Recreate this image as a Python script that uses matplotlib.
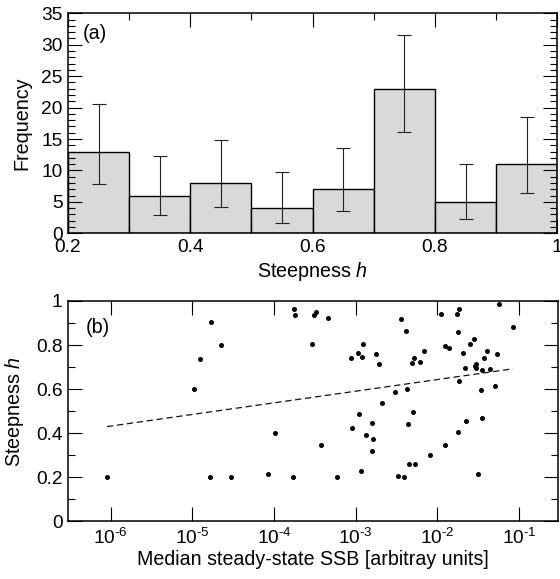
import numpy as np
import matplotlib
matplotlib.use("Agg")
import matplotlib.pyplot as plt
from matplotlib.ticker import MultipleLocator, FuncFormatter, LogLocator, NullLocator

plt.rcParams['font.family'] = ['Liberation Sans', 'DejaVu Sans']
plt.rcParams['mathtext.fontset'] = 'custom'
plt.rcParams['mathtext.rm'] = 'Liberation Sans'
plt.rcParams['mathtext.it'] = 'Liberation Sans:italic'
plt.rcParams['mathtext.default'] = 'regular'

# ---------------- data: panel (a) histogram ----------------
bin_left = [0.2, 0.3, 0.4, 0.5, 0.6, 0.7, 0.8, 0.9]
bin_width = 0.1
counts = [13, 6, 8, 4, 7, 23, 5, 11]
ci_lower = [7.9, 2.85, 4.17, 1.64, 3.54, 16.05, 2.22, 6.34]
ci_upper = [20.6, 12.35, 14.84, 9.77, 13.62, 31.52, 11.09, 18.43]

# ---------------- data: panel (b) scatter ----------------
ssb_log10 = [-6.045, -4.981, -4.904, -4.773, -4.647, -4.782, -4.528, -3.983, -4.069,
             -3.763, -3.750, -3.738,
             -3.506, -3.489, -3.342, -3.530, -3.053, -2.968, -2.922, -2.910, -2.747,
             -2.714, -2.442, -2.384, -2.314, -2.290, -2.217, -2.160, -1.952, -1.760,
             -1.739, -1.243, -1.072, -1.748, -1.903, -1.854, -1.605, -1.556, -1.690,
             -1.397, -1.271, -1.434, -1.524, -1.540, -1.531, -1.666, -1.454, -1.360,
             -1.736, -1.463, -1.295, -2.515, -2.368, -2.678, -2.955, -2.295, -3.048,
             -2.796, -2.363, -2.870, -2.791, -2.800, -1.646, -1.454, -1.744, -1.903,
             -2.094, -2.351, -2.278, -3.428, -2.931, -3.228, -2.486, -2.412, -1.503]
steepness = [0.200, 0.600, 0.738, 0.905, 0.800, 0.200, 0.200, 0.400, 0.214,
             0.200, 0.962, 0.935,
             0.938, 0.950, 0.921, 0.803, 0.742, 0.765, 0.745, 0.807, 0.759,
             0.712, 0.918, 0.866, 0.718, 0.739, 0.723, 0.773, 0.939, 0.941,
             0.962, 0.985, 0.882, 0.860, 0.795, 0.786, 0.806, 0.827, 0.765,
             0.773, 0.759, 0.739, 0.716, 0.706, 0.698, 0.694, 0.688, 0.692,
             0.636, 0.595, 0.614, 0.586, 0.600, 0.536, 0.486, 0.494, 0.424,
             0.448, 0.442, 0.394, 0.373, 0.321, 0.456, 0.468, 0.407, 0.347,
             0.300, 0.262, 0.260, 0.348, 0.227, 0.200, 0.206, 0.200, 0.215]
# regression line h = intercept + slope * log10(SSB)
fit_intercept = 0.749
fit_slope = 0.0528

ssb = 10.0 ** np.array(ssb_log10)

# ---------------- figure ----------------
W, H = 560, 579
fig = plt.figure(figsize=(W / 100, H / 100), dpi=100)
ax1 = fig.add_axes([68 / W, 1 - 233.3 / H, 489.3 / W, 220 / H])
ax2 = fig.add_axes([68 / W, 1 - 521.3 / H, 490 / W, 220.3 / H])

TICK_FS = 13.8
LAB_FS = 14.2
tick_kw = dict(direction='in', top=True, right=True, width=0.8)

for ax in (ax1, ax2):
    for s in ax.spines.values():
        s.set_linewidth(1.1)
    ax.tick_params(which='major', length=10, pad=4, labelsize=TICK_FS, **tick_kw)
    ax.tick_params(which='minor', length=5, **tick_kw)

# panel (a)
ax1.bar(bin_left, counts, width=bin_width, align='edge', color='#d9d9d9',
        edgecolor='black', linewidth=1.0, zorder=2)
centers = np.array(bin_left) + bin_width / 2
cnt = np.array(counts, dtype=float)
yerr = [cnt - np.array(ci_lower), np.array(ci_upper) - cnt]
ax1.errorbar(centers, cnt, yerr=yerr, fmt='none', ecolor='#222222', elinewidth=0.8,
             capsize=5, capthick=0.8, zorder=3)
ax1.set_xlim(0.2, 1.0)
ax1.set_ylim(0, 35)
ax1.xaxis.set_major_locator(MultipleLocator(0.2))
ax1.xaxis.set_minor_locator(MultipleLocator(0.1))
ax1.yaxis.set_major_locator(MultipleLocator(5))
ax1.yaxis.set_minor_locator(MultipleLocator(1))
ax1.xaxis.set_major_formatter(FuncFormatter(lambda v, p: '%g' % round(v, 3)))
ax1.set_xlabel('Steepness $\\mathit{h}$', fontsize=LAB_FS, labelpad=3)
ax1.set_ylabel('Frequency', fontsize=LAB_FS, labelpad=7)
ax1.text(0.030, 0.950, '(a)', transform=ax1.transAxes, fontsize=LAB_FS, va='top', ha='left')
ax1.set_axisbelow(False)

# panel (b)
ax2.plot(ssb, steepness, 'o', color='black', ms=3.6, mec='none', zorder=3)
xl = np.array([min(ssb_log10), max(ssb_log10)])
ax2.plot(10.0 ** xl, fit_intercept + fit_slope * xl, color='#111111', lw=0.9,
         linestyle=(0, (5, 3)), zorder=2)
ax2.set_xscale('log')
ax2.set_xlim(3e-7, 0.3)
ax2.set_ylim(0, 1)
ax2.xaxis.set_major_locator(LogLocator(base=10, numticks=20))
ax2.xaxis.set_minor_locator(NullLocator())
ax2.xaxis.set_major_formatter(
    FuncFormatter(lambda v, p: '$10^{\\text{-%d}}$' % abs(round(np.log10(v)))))
ax2.tick_params(axis='x', which='major', labelsize=13.8, pad=5)
ax2.yaxis.set_major_locator(MultipleLocator(0.2))
ax2.yaxis.set_minor_locator(MultipleLocator(0.1))
ax2.yaxis.set_major_formatter(FuncFormatter(lambda v, p: '%g' % round(v, 3)))
ax2.set_xlabel('Median steady-state SSB [arbitray units]', fontsize=14.1, labelpad=1)
ax2.set_ylabel('Steepness $\\mathit{h}$', fontsize=LAB_FS, labelpad=7)
ax2.text(0.037, 0.925, '(b)', transform=ax2.transAxes, fontsize=LAB_FS, va='top', ha='left')

fig.savefig('out.png', dpi=100)
